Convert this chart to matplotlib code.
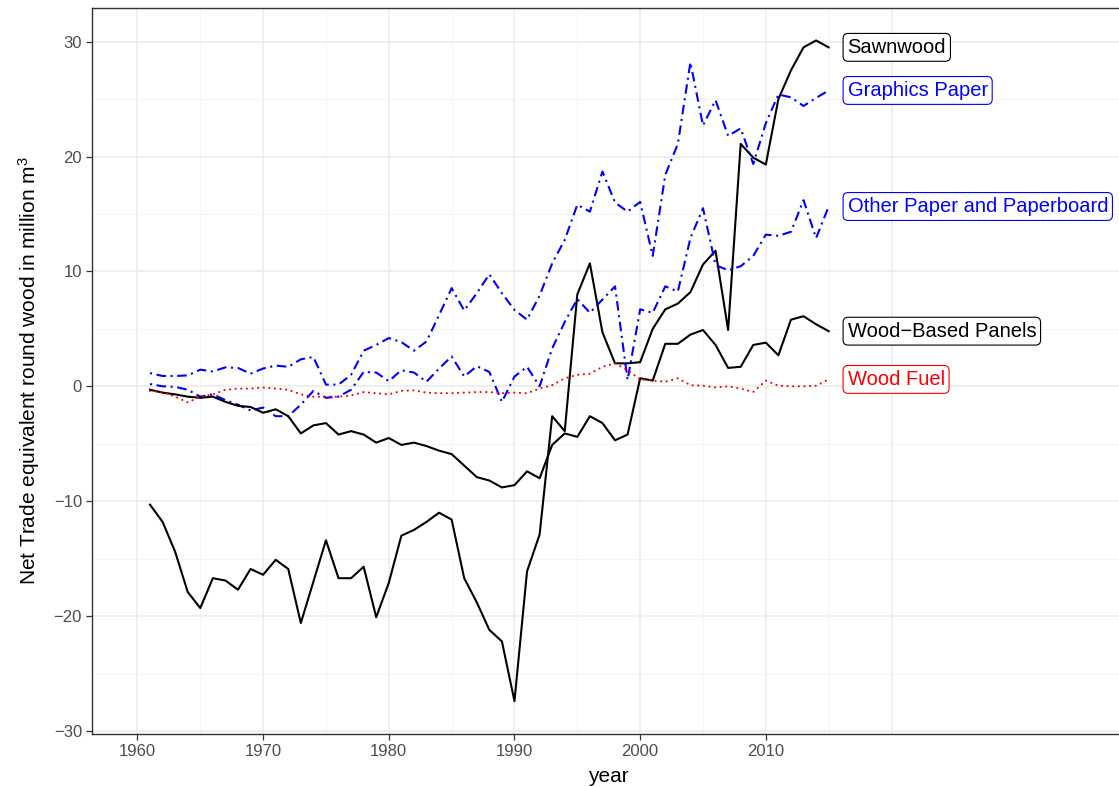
import numpy as np
import matplotlib
matplotlib.use("Agg")
import matplotlib.pyplot as plt
from matplotlib.ticker import FixedLocator

plt.rcParams['font.family'] = ['Liberation Sans', 'DejaVu Sans']
plt.rcParams['mathtext.fontset'] = 'custom'
plt.rcParams['mathtext.rm'] = 'Liberation Sans'
plt.rcParams['mathtext.it'] = 'Liberation Sans'

# data (million m3 round wood equivalent)
years = list(range(1961, 2016))

sawnwood = [-10.3, -11.8, -14.4, -17.9, -19.3, -16.7, -16.9, -17.7, -15.9, -16.4,
            -15.1, -15.9, -20.6, -17.0, -13.4, -16.7, -16.7, -15.7, -20.1, -17.1,
            -13.0, -12.5, -11.8, -11.0, -11.6, -16.7, -18.8, -21.2, -22.2, -27.4,
            -16.1, -12.9, -2.6, -3.9, 8.0, 10.7, 4.7, 2.0, 2.0, 2.1,
            5.0, 6.7, 7.2, 8.2, 10.6, 11.8, 4.9, 21.1, 19.9, 19.3,
            25.0, 27.5, 29.5, 30.1, 29.5]

panels = [-0.3, -0.55, -0.7, -0.9, -1.0, -0.9, -1.35, -1.7, -1.8, -2.3,
          -2.0, -2.6, -4.1, -3.4, -3.2, -4.2, -3.9, -4.2, -4.9, -4.5,
          -5.1, -4.9, -5.2, -5.6, -5.9, -6.9, -7.9, -8.2, -8.8, -8.6,
          -7.4, -8.0, -5.1, -4.1, -4.4, -2.6, -3.2, -4.7, -4.2, 0.7,
          0.5, 3.7, 3.7, 4.5, 4.9, 3.6, 1.6, 1.7, 3.6, 3.8,
          2.7, 5.8, 6.1, 5.4, 4.8]

graphics = [1.15, 0.9, 0.9, 0.95, 1.45, 1.3, 1.65, 1.6, 1.1, 1.55,
            1.8, 1.7, 2.35, 2.55, 0.15, 0.15, 1.0, 3.1, 3.6, 4.2,
            3.85, 3.1, 3.9, 6.2, 8.55, 6.6, 8.1, 9.75, 8.1, 6.65,
            5.8, 7.9, 10.7, 12.75, 15.8, 15.2, 18.7, 16.0, 15.2, 16.05,
            11.35, 18.4, 21.1, 28.2, 22.7, 24.9, 21.8, 22.45, 19.35, 22.9,
            25.4, 25.15, 24.4, 25.1, 25.75]

other_paper = [0.2, 0.0, -0.05, -0.3, -0.9, -0.7, -1.2, -1.6, -2.1, -1.85,
               -2.6, -2.6, -1.6, -0.4, -1.0, -0.9, -0.3, 1.25, 1.2, 0.45,
               1.4, 1.2, 0.4, 1.55, 2.6, 0.85, 1.75, 1.25, -1.35, 0.85,
               1.7, 0.0, 3.3, 5.6, 7.6, 6.4, 7.55, 8.7, 0.55, 6.7,
               6.4, 8.7, 8.25, 12.9, 15.5, 10.55, 10.1, 10.45, 11.35, 13.2,
               13.1, 13.45, 16.2, 12.9, 15.65]

wood_fuel = [-0.4, -0.5, -0.9, -1.4, -0.9, -0.7, -0.3, -0.2, -0.2, -0.1,
             -0.2, -0.3, -0.7, -0.9, -0.9, -0.9, -0.8, -0.5, -0.6, -0.7,
             -0.4, -0.35, -0.55, -0.6, -0.6, -0.55, -0.5, -0.5, -0.6, -0.55,
             -0.6, -0.2, 0.1, 0.7, 1.0, 1.1, 1.7, 2.0, 1.4, 0.6,
             0.5, 0.4, 0.7, 0.1, 0.05, -0.1, 0.0, -0.2, -0.5, 0.5,
             0.05, 0.0, 0.0, 0.05, 0.6]

names = ['Sawnwood', 'Graphics Paper', 'Other Paper and Paperboard',
         'Wood\u2212Based Panels', 'Wood Fuel']
series = [sawnwood, graphics, other_paper, panels, wood_fuel]
colors = ['black', 'blue', 'blue', 'black', 'red']
kinds = ['solid', 'dotdash', 'dotdash', 'solid', 'dotted']

x_breaks = [1960, 1970, 1980, 1990, 2000, 2010]
y_breaks = [-30, -20, -10, 0, 10, 20, 30]

fig = plt.figure(figsize=(11.19, 7.87), dpi=100)
ax = fig.add_axes([91.7 / 1119, 1 - 734 / 787, (1124 - 91.7) / 1119, (734 - 8.3) / 787])

for vals, col, kind in zip(series, colors, kinds):
    line, = ax.plot(years, vals, color=col, lw=1.5, zorder=3)
    if kind == 'dotdash':
        line.set_dashes((1.0, 2.2, 4.6, 2.2))
    elif kind == 'dotted':
        line.set_dash_capstyle('round')
        line.set_dashes((0.1, 2.6))

# labels at the last value of each series
for name, vals, col in zip(names, series, colors):
    ax.text(2016.5, vals[-1], name, color=col, fontsize=14.5, ha='left', va='center',
            zorder=4,
            bbox=dict(boxstyle='round,pad=0.22,rounding_size=0.25', fc='white',
                      ec=col, lw=0.8))

ax.xaxis.set_major_locator(FixedLocator(x_breaks))
ax.xaxis.set_minor_locator(FixedLocator([1965, 1975, 1985, 1995, 2005, 2015]))
ax.yaxis.set_major_locator(FixedLocator(y_breaks))
ax.yaxis.set_minor_locator(FixedLocator([-25, -15, -5, 5, 15, 25]))
ax.set_yticklabels([str(v).replace('-', '\u2212') for v in y_breaks])
ax.axvline(2020, color='#EBEBEB', lw=1.1, zorder=0)

ax.set_xlim(1956.36, 2038.5)
ax.set_ylim(-30.26, 32.9)

ax.grid(which='major', color='#EBEBEB', lw=1.1, zorder=0)
ax.grid(which='minor', color='#F2F2F2', lw=0.6, zorder=0)
ax.set_axisbelow(True)

ax.tick_params(which='major', length=4, width=0.9, color='#333333',
               labelcolor='#4D4D4D', labelsize=12, pad=3)
ax.tick_params(which='minor', length=0)
for s in ax.spines.values():
    s.set_color('#333333')
    s.set_linewidth(1.0)

ax.set_xlabel('year', fontsize=15, labelpad=6)
ax.set_ylabel('Net Trade equivalent round wood in million m$^3$', fontsize=15, labelpad=8)

fig.savefig('out.png', dpi=100)
